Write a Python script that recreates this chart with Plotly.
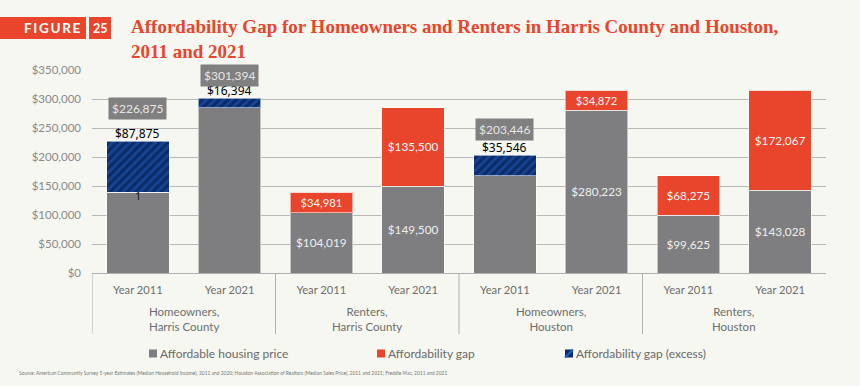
import plotly.graph_objects as go

# ---------------- data ----------------
groups = ["Homeowners,<br>Harris County", "Renters,<br>Harris County",
          "Homeowners,<br>Houston", "Renters,<br>Houston"]
years = ["Year 2011", "Year 2021"]
affordable = [139000, 285000, 104019, 149500, 167900, 280223, 99625, 143028]
gap =        [0,      0,      34981,  135500, 0,      34872,  68275,  172067]
excess =     [87875,  16394,  0,      0,      35546,  0,      0,      0]
show_afford_label = [False, False, True, True, False, True, True, True]
y_ticks = [0, 50000, 100000, 150000, 200000, 250000, 300000, 350000]
legend_names = ["Affordable housing price", "Affordability gap", "Affordability gap (excess)"]

# ---------------- layout constants ----------------
W, H = 860, 386
ML, MR, MT, MB = 92, 34, 70, 113
PW, PH = W - ML - MR, H - MT - MB
BG = "#f5f7f0"
GRAY = "#7e7e80"
RED = "#e8452c"
NAVY = "#0c2b68"
BLUE = "#2060c0"


def px_x(px):
    return (px - ML) / PW


def px_y(py):
    return 1 - (py - MT) / PH


n = len(affordable)
xs = list(range(n))
totals = [a + g + e for a, g, e in zip(affordable, gap, excess)]


def fmt(v):
    return "${:,.0f}".format(v)


fig = go.Figure()
line = dict(color="rgba(255,255,255,0.55)", width=1)
fig.add_trace(go.Bar(
    x=xs, y=affordable, name=legend_names[0],
    marker=dict(color=GRAY, line=line),
    text=[fmt(v) if s else "" for v, s in zip(affordable, show_afford_label)],
    textposition="inside", insidetextanchor="middle",
    textfont=dict(family="Lato", size=11.8, color="#eeeeee"),
    hoverinfo="skip",
))
fig.add_trace(go.Bar(
    x=xs, y=gap, name=legend_names[1],
    marker=dict(color=RED, line=line),
    text=[fmt(v) if v else "" for v in gap],
    textposition="inside", insidetextanchor="middle",
    textfont=dict(family="Lato", size=11.8, color="#f4f4f4"),
    hoverinfo="skip",
))
fig.add_trace(go.Bar(
    x=xs, y=excess, name=legend_names[2],
    marker=dict(color=NAVY, line=line,
                pattern=dict(shape="/", fgcolor=BLUE, bgcolor=NAVY,
                             size=6, solidity=0.45)),
    hoverinfo="skip",
))

annotations = []
# black labels and grey total boxes above excess bars
box_shift = {0: 33, 1: 23, 4: 26}
for i in xs:
    if excess[i]:
        annotations.append(dict(
            x=i, y=totals[i], xref="x", yref="y", text=fmt(excess[i]),
            showarrow=False, yanchor="middle", yshift=8,
            font=dict(family="Noto Sans", size=12, color="#000000")))
        annotations.append(dict(
            x=i, y=totals[i], xref="x", yref="y", text=fmt(totals[i]),
            showarrow=False, yanchor="middle", yshift=box_shift[i],
            bgcolor="#808080", borderpad=3,
            font=dict(family="Lato", size=12, color="#e6e6e6")))
# stray "1" label on the first bar
annotations.append(dict(
    x=0, y=affordable[0], xref="x", yref="y", text="1", showarrow=False,
    yanchor="middle", yshift=-3,
    font=dict(family="Noto Sans", size=11, color="#111111")))

# group labels
for gi, g in enumerate(groups):
    annotations.append(dict(
        x=gi * 2 + 0.5, y=0, xref="x", yref="paper", text=g,
        showarrow=False, yanchor="middle", yshift=-(319 - 273),
        font=dict(family="Lato", size=11.5, color="#6e6e6e")))

# title
annotations.append(dict(
    x=px_x(129), y=px_y(14), xref="paper", yref="paper", xanchor="left",
    yanchor="top", align="left", showarrow=False,
    text="<b>Affordability Gap for Homeowners and Renters in Harris County and Houston,"
         "<br>2011 and 2021</b>",
    font=dict(family="Liberation Serif", size=19, color=RED)))
annotations.append(dict(
    x=px_x(52), y=px_y(28), xref="paper", yref="paper", xanchor="center",
    yanchor="middle", showarrow=False,
    text="<b>F\u2009I\u2009G\u2009U\u2009R\u2009E</b>",
    font=dict(family="Lato", size=13.5, color="#ffffff")))
annotations.append(dict(
    x=px_x(100), y=px_y(28), xref="paper", yref="paper", xanchor="center",
    yanchor="middle", showarrow=False, text="<b>25</b>",
    font=dict(family="Lato", size=12.5, color="#ffffff")))
# source
annotations.append(dict(
    x=px_x(17), y=px_y(373), xref="paper", yref="paper", xanchor="left",
    yanchor="middle", showarrow=False,
    text="Source: American Community Survey 5-year Estimates (Median Household Income), 2011 and 2020; "
         "Houston Association of Realtors (Median Sales Price), 2011 and 2021; Freddie Mac, 2011 and 2021",
    font=dict(family="Lato", size=4.9, color="#777777")))

shapes = [
    dict(type="rect", xref="paper", yref="paper", x0=px_x(0), x1=px_x(86),
         y0=px_y(39), y1=px_y(17), fillcolor=RED, line=dict(width=0), layer="below"),
    dict(type="rect", xref="paper", yref="paper", x0=px_x(89), x1=px_x(111),
         y0=px_y(39), y1=px_y(17), fillcolor=RED, line=dict(width=0), layer="below"),
]
for d in [-0.5, 1.5, 3.5, 5.5]:
    shapes.append(dict(type="line", xref="x", yref="paper", x0=d, x1=d,
                       y0=0, y1=px_y(334), line=dict(color="#b0b0b0", width=1)))

# legend drawn as coloured squares plus labels
legend_sq_x = [149, 377, 565]
legend_colors = [GRAY, RED, NAVY]
for lx, lc, name in zip(legend_sq_x, legend_colors, legend_names):
    shapes.append(dict(type="rect", xref="paper", yref="paper",
                       x0=px_x(lx), x1=px_x(lx + 8), y0=px_y(357.5), y1=px_y(349.5),
                       fillcolor=lc, line=dict(width=0)))
    annotations.append(dict(
        x=px_x(lx + 9), y=px_y(353), xref="paper", yref="paper", xanchor="left",
        yanchor="middle", showarrow=False, text=name,
        font=dict(family="Lato", size=12, color="#6a6a6a")))
# blue stripe in the excess legend square
shapes.append(dict(type="line", xref="paper", yref="paper",
                   x0=px_x(565), x1=px_x(573), y0=px_y(357.5), y1=px_y(349.5),
                   line=dict(color=BLUE, width=2)))

fig.update_layout(
    width=W, height=H, margin=dict(l=ML, r=MR, t=MT, b=MB),
    paper_bgcolor=BG, plot_bgcolor=BG,
    barmode="stack", bargap=0.32,
    showlegend=False,
    xaxis=dict(tickmode="array", tickvals=xs, ticktext=years * len(groups),
               range=[-0.5, n - 0.5], showgrid=False, showline=True,
               linecolor="#b0b0b0", linewidth=1, ticks="",
               ticklabelstandoff=7,
               tickfont=dict(family="Lato", size=11.2, color="#6e6e6e"),
               fixedrange=True),
    yaxis=dict(range=[0, 350000], tickvals=y_ticks,
               ticktext=[fmt(v) for v in y_ticks], showgrid=True,
               gridcolor="#b8b8b8", gridwidth=1, zeroline=False,
               showline=False, ticks="", ticklabelstandoff=10,
               tickfont=dict(family="Lato", size=11.5, color="#8a8a8a"),
               fixedrange=True),
    annotations=annotations, shapes=shapes,
    font=dict(family="Lato"),
)

fig.write_html("out.html", config={"displayModeBar": False},
               post_script="document.body.style.margin='0';document.body.style.overflow='hidden';")
